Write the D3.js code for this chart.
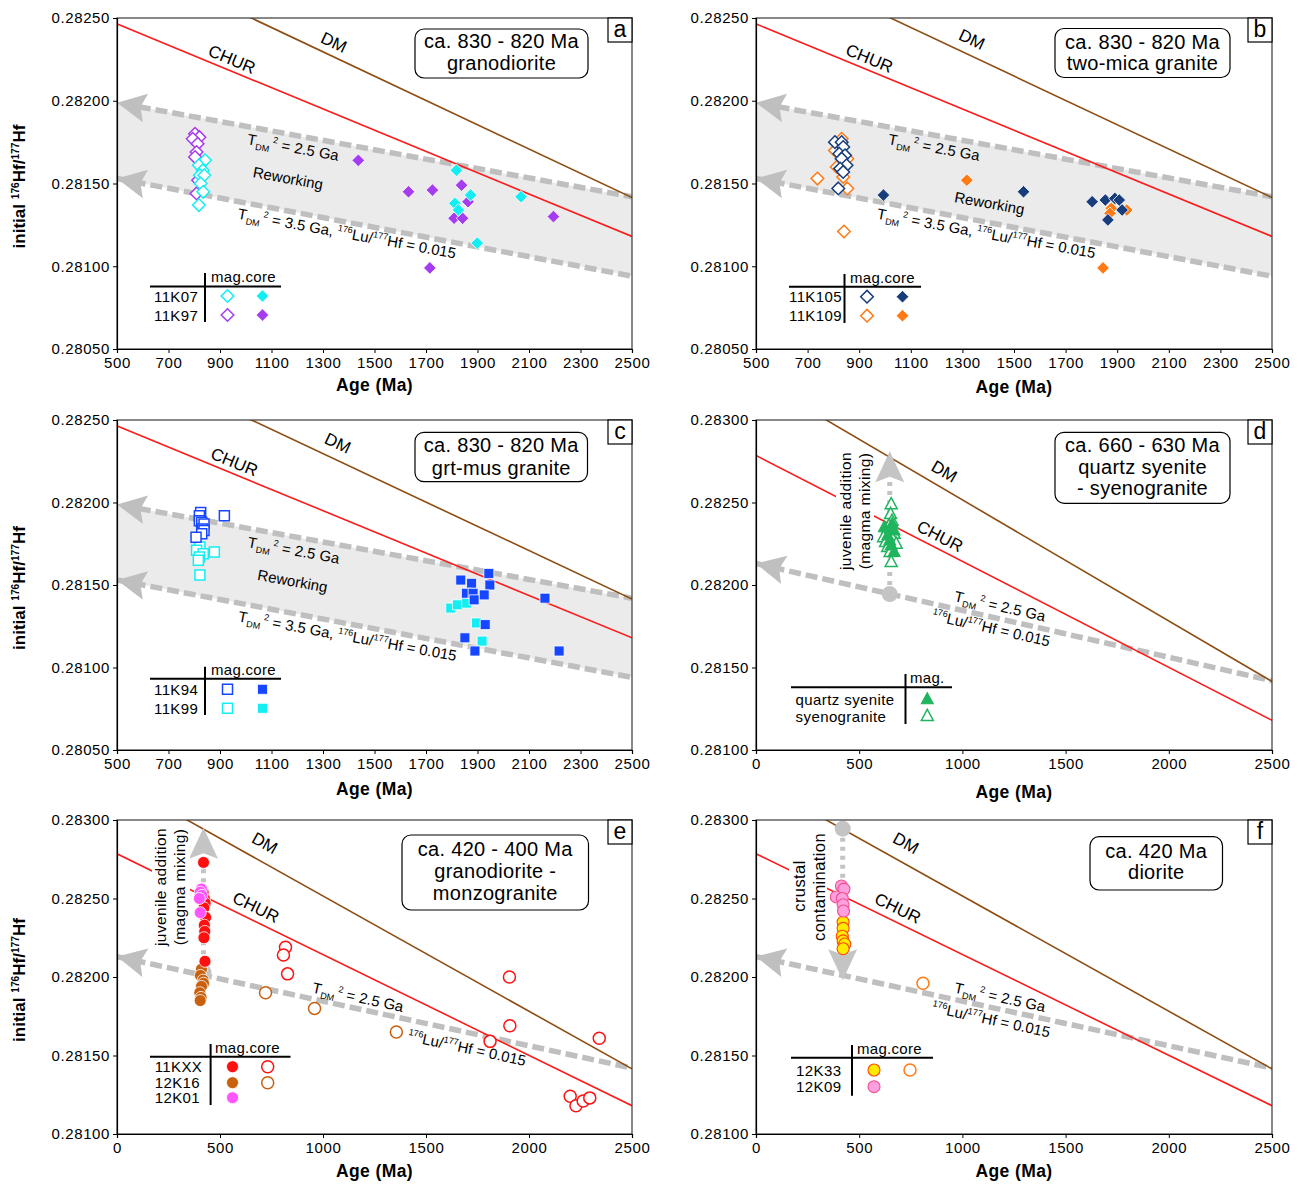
<!DOCTYPE html>
<html>
<head>
<meta charset="utf-8">
<script src="https://cdn.jsdelivr.net/npm/d3@7"></script>
<style>
  body { margin: 0; background: #fff; }
  svg text { font-family: "Liberation Sans", Arial, Helvetica, sans-serif; fill: #000; }
</style>
</head>
<body>
<svg id="fig" width="1299" height="1184"></svg>
<script>
// ---------- axis ticks ----------
const ageTicksOld   = [500, 700, 900, 1100, 1300, 1500, 1700, 1900, 2100, 2300, 2500];
const ageTicksYoung = [0, 500, 1000, 1500, 2000, 2500];
const hfTicksOld    = [0.2805, 0.2810, 0.2815, 0.2820, 0.2825];
const hfTicksYoung  = [0.2810, 0.2815, 0.2820, 0.2825, 0.2830];

// ---------- reference evolution lines [age (Ma), initial 176Hf/177Hf] ----------
const churLine  = [[0, 0.282785], [2500, 0.281180]];
const dmLine    = [[0, 0.283250], [2500, 0.281415]];
const tdm25Line = [[0, 0.282130], [2500, 0.281420]];
const tdm35Line = [[500, 0.281530], [2500, 0.280940]];

// ---------- (a) ca. 830-820 Ma granodiorite ----------
const k07Mag  = [[842,0.28164],[818,0.28161],[833,0.28158],[822,0.28155],[839,0.28155],[825,0.28150],[835,0.28145],[818,0.28137]];
const k07Core = [[1818,0.28158],[1873,0.28143],[1812,0.28138],[1826,0.28134],[2069,0.28142],[1899,0.28114]];
const k97Mag  = [[803,0.28180],[820,0.28178],[794,0.28177],[813,0.28174],[809,0.28169],[803,0.28166],[815,0.28152],[809,0.28144]];
const k97Core = [[1437,0.28164],[1632,0.28145],[1725,0.28146],[1838,0.28149],[1863,0.28139],[1809,0.28129],[1842,0.28129],[1715,0.28099],[2195,0.28130]];

// ---------- (b) ca. 830-820 Ma two-mica granite ----------
const k105Mag  = [[806,0.28175],[832,0.28175],[838,0.28172],[823,0.28168],[845,0.28167],[832,0.28165],[851,0.28161],[826,0.28159],[838,0.28157],[819,0.28147]];
const k105Core = [[994,0.28143],[1537,0.28145],[1803,0.28139],[1854,0.28140],[1891,0.28141],[1908,0.28140],[1919,0.28134],[1864,0.28128]];
const k109Mag  = [[832,0.28177],[806,0.28170],[854,0.28165],[813,0.28160],[838,0.28154],[738,0.28153],[854,0.28147],[841,0.28121]];
const k109Core = [[1317,0.28152],[1845,0.28099],[1877,0.28135],[1872,0.28132],[1937,0.28134]];

// ---------- (c) ca. 830-820 Ma grt-mus granite ----------
const k94Mag  = [[825,0.28194],[820,0.28192],[820,0.28189],[829,0.28188],[838,0.28187],[833,0.28184],[838,0.28183],[829,0.28181],[807,0.28179],[917,0.28192]];
const k94Core = [[1835,0.28153],[1877,0.28151],[1944,0.28157],[1948,0.28150],[1857,0.28145],[1883,0.28145],[1926,0.28144],[1887,0.28141],[1851,0.28118],[1930,0.28126],[1890,0.28110],[2217,0.28110],[2162,0.28142]];
const k99Mag  = [[822,0.28173],[809,0.28171],[835,0.28169],[878,0.28170],[820,0.28167],[816,0.28165],[822,0.28156]];
const k99Core = [[1796,0.28136],[1822,0.28138],[1858,0.28139],[1896,0.28127],[1918,0.28116]];

// ---------- (d) ca. 660-630 Ma quartz syenite - syenogranite ----------
const qzSyenite    = [[622,0.28235],[669,0.28233],[638,0.28230],[648,0.28227],[655,0.28224],[669,0.28220],[660,0.28237]];
const syenogranite = [[655,0.28249],[652,0.28243],[659,0.28239],[638,0.28234],[645,0.28236],[669,0.28231],[618,0.28229],[662,0.28228],[628,0.28226],[679,0.28225],[638,0.28223],[650,0.28220],[655,0.28214]];

// ---------- (e) ca. 420-400 Ma granodiorite - monzogranite ----------
const kxxMag  = [[420,0.28273],[418,0.28254],[424,0.28250],[428,0.28247],[422,0.28244],[430,0.28238],[424,0.28233],[426,0.28229],[422,0.28225],[427,0.28210]];
const kxxCore = [[818,0.28219],[808,0.28214],[828,0.28202],[1905,0.28200],[1907,0.28169],[1811,0.28159],[2341,0.28161],[2200,0.28124],[2228,0.28118],[2263,0.28121],[2295,0.28123]];
const k16Mag  = [[410,0.28205],[405,0.28201],[418,0.28198],[420,0.28196],[410,0.28194],[402,0.28190],[408,0.28187],[404,0.28185]];
const k16Core = [[721,0.28190],[959,0.28180],[1356,0.28165]];
const k01Mag  = [[410,0.28256],[404,0.28254],[412,0.28252],[400,0.28250],[404,0.28241]];

// ---------- (f) ca. 420 Ma diorite ----------
const k09Mag  = [[414,0.28258],[426,0.28256],[389,0.28251],[418,0.28250],[422,0.28246],[424,0.28242]];
const k33Mag  = [[422,0.28235],[422,0.28231],[418,0.28226],[422,0.28223],[430,0.28221],[422,0.28218]];
const k33Core = [[809,0.28196]];

// ---------- styling ----------
const C = {
  chur: "#ff1a1a", dm: "#8e4d12", band: "#ebebeb", dash: "#bfbfbf",
  cyan: "#14eef2", purple: "#a63cf0", navy: "#173d7c", orange: "#ff7a14",
  blue: "#1646ff", green: "#1fb45e", red: "#ff1010", brown: "#c8600f",
  magenta: "#ff55ff", pink: "#ff9fe0", pinkLine: "#f0508a", yellow: "#ffea00", yellowLine: "#ff4a00"
};
const openS   = (c, shape, r) => ({shape, r, fill: "#fff", stroke: c, sw: 1.5});
const filledS = (c, shape, r, st) => ({shape, r, fill: c, stroke: st || "#fff", sw: st ? 1.1 : 0.8});

const svg = d3.select("#fig");
const defs = svg.append("defs");

function markerPath(shape, r) {
  if (shape === "diamond") return `M0,${-r}L${r},0L0,${r}L${-r},0Z`;
  if (shape === "square") return `M${-r},${-r}H${r}V${r}H${-r}Z`;
  if (shape === "triangle") return `M0,${-r * 1.1}L${r},${r * 0.75}L${-r},${r * 0.75}Z`;
  return d3.symbol(d3.symbolCircle, Math.PI * r * r)();
}
function drawMark(g, px, py, st) {
  g.append("path").attr("d", markerPath(st.shape, st.r))
    .attr("transform", `translate(${px},${py})`)
    .attr("fill", st.fill).attr("stroke", st.stroke).attr("stroke-width", st.sw);
}

// rich text: parts with optional scale (s) and relative baseline shift (dy)
function rich(textSel, parts, size) {
  parts.forEach(p => {
    textSel.append("tspan")
      .attr("font-size", p.s ? size * p.s : size)
      .attr("dy", p.dy || 0)
      .text(p.t);
  });
}
const tdmParts = rest => [{t: "T"}, {t: "DM", s: 0.6, dy: 4}, {t: " 2", s: 0.6, dy: -10}, {t: " = " + rest, dy: 6}];
const luParts  = [{t: "176", s: 0.6, dy: -6}, {t: "Lu/", dy: 6}, {t: "177", s: 0.6, dy: -6}, {t: "Hf = 0.015", dy: 6}];

function arrowHead(g, tipX, tipY, angleDeg, len, wid, color) {
  const h = wid / 2;
  g.append("path")
    .attr("d", `M0,0L${len},${-h}L${len * 0.82},0L${len},${h}Z`)
    .attr("transform", `translate(${tipX},${tipY}) rotate(${angleDeg})`)
    .attr("fill", color);
}

function drawPanel(p) {
  const x = d3.scaleLinear().domain(p.xDomain).range([p.x0, p.x1]);
  const y = d3.scaleLinear().domain(p.yDomain).range([p.y1, p.y0]);
  const line = d3.line().x(d => x(d[0])).y(d => y(d[1]));
  const angleOf = l => Math.atan2(y(l[1][1]) - y(l[0][1]), x(l[1][0]) - x(l[0][0])) * 180 / Math.PI;
  const valueAt = (l, a) => d3.scaleLinear().domain([l[0][0], l[1][0]]).range([l[0][1], l[1][1]])(a);

  const clipId = "clip-" + p.id;
  defs.append("clipPath").attr("id", clipId).append("rect")
    .attr("x", p.x0).attr("y", p.y0).attr("width", p.x1 - p.x0).attr("height", p.y1 - p.y0);

  const g = svg.append("g");
  const plot = g.append("g").attr("clip-path", `url(#${clipId})`);
  const xmin = p.xDomain[0];

  // crustal reworking field
  if (p.band) {
    plot.append("path")
      .attr("d", line([tdm25Line[0], tdm25Line[1], tdm35Line[1], tdm35Line[0], [xmin, valueAt(tdm25Line, xmin)]]) + "Z")
      .attr("fill", C.band);
  }
  const dashLines = p.band ? [tdm25Line, tdm35Line] : [tdm25Line];
  dashLines.forEach(l => {
    plot.append("path").attr("d", line(l)).attr("fill", "none")
      .attr("stroke", C.dash).attr("stroke-width", 5.5).attr("stroke-dasharray", "12,5");
  });

  // evolution lines
  plot.append("path").attr("d", line(churLine)).attr("fill", "none").attr("stroke", C.chur).attr("stroke-width", 1.6);
  plot.append("path").attr("d", line(dmLine)).attr("fill", "none").attr("stroke", C.dm).attr("stroke-width", 1.6);

  dashLines.forEach(l => {
    const v = valueAt(l, xmin);
    arrowHead(g, x(xmin), y(v), angleOf(l), 29, 29, C.dash);
  });

  // vertical process arrow (juvenile addition / crustal contamination)
  if (p.process) {
    const pr = p.process;
    const cx = x(pr.dot[0]), cy = y(pr.dot[1]), ty = y(pr.tip[1]);
    const dir = ty < cy ? 1 : -1;
    g.append("line").attr("x1", cx).attr("x2", cx).attr("y1", cy).attr("y2", ty + dir * 28)
      .attr("stroke", "#c4c4c4").attr("stroke-width", 5).attr("stroke-dasharray", "4,5");
    g.append("circle").attr("cx", cx).attr("cy", cy).attr("r", 8).attr("fill", "#c4c4c4");
    arrowHead(g, cx, ty, dir > 0 ? 90 : -90, 31, 29, "#c4c4c4");
    // text block interrupts the reference lines beneath it
    g.append("rect").attr("x", pr.box[0]).attr("y", pr.box[1]).attr("width", pr.box[2]).attr("height", pr.box[3]).attr("fill", "#fff");
    pr.lines.forEach(l => {
      g.append("text").attr("transform", `translate(${l.x},${l.y}) rotate(-90)`)
        .attr("text-anchor", "middle").attr("font-size", l.size || 15.5).attr("letter-spacing", 0.4).text(l.t);
    });
  }

  // line labels
  p.labels.forEach(lb => {
    const size = lb.size || 15;
    const t = g.append("text")
      .attr("transform", `translate(${x(lb.at[0])},${y(lb.at[1])}) rotate(${angleOf(lb.along)})`)
      .attr("x", 0).attr("y", size * 0.36).attr("text-anchor", "middle").attr("font-size", size);
    if (typeof lb.parts === "string") t.text(lb.parts); else rich(t, lb.parts, size);
  });

  // data points, above the annotations
  const pts = g.append("g").attr("clip-path", `url(#${clipId})`);
  p.series.forEach(s => s.data.forEach(d => drawMark(pts, x(d[0]), y(d[1]), s.style)));

  // frame and axes
  g.append("rect").attr("x", p.x0).attr("y", p.y0).attr("width", p.x1 - p.x0).attr("height", p.y1 - p.y0)
    .attr("fill", "none").attr("stroke", "#3a3a3a").attr("stroke-width", 1.2);
  const ax = g.append("g").attr("transform", `translate(0,${p.y1})`)
    .call(d3.axisBottom(x).tickValues(p.xTicks).tickFormat(d3.format("d")).tickSize(4).tickPadding(4));
  const ay = g.append("g").attr("transform", `translate(${p.x0},0)`)
    .call(d3.axisLeft(y).tickValues(p.yTicks).tickFormat(d3.format(".5f")).tickSize(4).tickPadding(3));
  [ax, ay].forEach(a => {
    a.select(".domain").attr("stroke", "#000").attr("stroke-width", 1.2);
    a.selectAll("text").attr("font-size", 15).attr("letter-spacing", 0.6)
      .attr("font-family", '"Liberation Sans", Arial, sans-serif').attr("fill", "#000");
  });

  // axis titles
  g.append("text").attr("x", (p.x0 + p.x1) / 2).attr("y", p.xTitleY).attr("text-anchor", "middle")
    .attr("font-size", 17.5).attr("font-weight", "bold").attr("letter-spacing", 0.4).text("Age (Ma)");
  if (p.yTitle) {
    const t = g.append("text").attr("transform", `translate(25,${(p.y0 + p.y1) / 2 + 3}) rotate(-90)`)
      .attr("text-anchor", "middle").attr("font-size", 17).attr("font-weight", "bold");
    rich(t, [{t: "initial "}, {t: "176", s: 0.6, dy: -6}, {t: "Hf/", dy: 6}, {t: "177", s: 0.6, dy: -6}, {t: "Hf", dy: 6}], 17);
  }

  // age / lithology box
  const b = p.box;
  g.append("rect").attr("x", b.x).attr("y", b.y).attr("width", b.w).attr("height", b.h)
    .attr("rx", 9).attr("fill", "#fff").attr("stroke", "#000").attr("stroke-width", 1.2);
  b.lines.forEach((txt, i) => {
    g.append("text").attr("x", b.x + b.w / 2).attr("y", b.ly[i] + 7).attr("text-anchor", "middle")
      .attr("font-size", 20).attr("letter-spacing", 0.3).text(txt);
  });

  // panel letter
  g.append("rect").attr("x", p.x1 - 24).attr("y", p.y0).attr("width", 24).attr("height", 24)
    .attr("fill", "#fff").attr("stroke", "#000").attr("stroke-width", 1.2);
  g.append("text").attr("x", p.x1 - 12).attr("y", p.y0 + 19).attr("text-anchor", "middle")
    .attr("font-size", 23).text(p.id);

  // legend table
  const L = p.legend;
  g.append("line").attr("x1", L.h[0]).attr("x2", L.h[1]).attr("y1", L.h[2]).attr("y2", L.h[2]).attr("stroke", "#000").attr("stroke-width", 2);
  g.append("line").attr("x1", L.v[0]).attr("x2", L.v[0]).attr("y1", L.v[1]).attr("y2", L.v[2]).attr("stroke", "#000").attr("stroke-width", 2);
  g.append("text").attr("x", L.head[1]).attr("y", L.head[2] + 5).attr("font-size", 15).attr("letter-spacing", 0.3).text(L.head[0]);
  L.rows.forEach(r => {
    g.append("text").attr("x", L.labelX).attr("y", r.y + 5.5).attr("font-size", 15).attr("letter-spacing", 0.4).text(r.label);
    r.marks.forEach((st, i) => { if (st) drawMark(g, L.cols[i], r.y, st); });
  });
}

// ---------- panel layout ----------
const oldFrame = {xDomain: [500, 2500], yDomain: [0.2805, 0.2825], xTicks: ageTicksOld, yTicks: hfTicksOld, band: true};
const youngFrame = {xDomain: [0, 2500], yDomain: [0.2810, 0.2830], xTicks: ageTicksYoung, yTicks: hfTicksYoung, band: false};

const sCyanO = openS(C.cyan, "diamond", 6.3), sCyanF = filledS(C.cyan, "diamond", 6.3);
const sPurO = openS(C.purple, "diamond", 6.3), sPurF = filledS(C.purple, "diamond", 6.3);
const sNavyO = openS(C.navy, "diamond", 6.3), sNavyF = filledS(C.navy, "diamond", 6.3);
const sOrO = openS(C.orange, "diamond", 6.3), sOrF = filledS(C.orange, "diamond", 6.3);
const sBlueO = openS(C.blue, "square", 5), sBlueF = filledS(C.blue, "square", 5);
const sCySqO = openS(C.cyan, "square", 5), sCySqF = filledS(C.cyan, "square", 5);
const sGreenF = filledS(C.green, "triangle", 6, C.green), sGreenO = openS(C.green, "triangle", 6);
const sRedF = filledS(C.red, "circle", 6), sRedO = openS(C.red, "circle", 6);
const sBrF = filledS(C.brown, "circle", 6), sBrO = openS(C.brown, "circle", 6);
const sMagF = filledS(C.magenta, "circle", 6);
const sPinkF = filledS(C.pink, "circle", 6, C.pinkLine);
const sYelF = filledS(C.yellow, "circle", 6, C.yellowLine);
const sOrCO = openS(C.orange, "circle", 6);

drawPanel(Object.assign({}, oldFrame, {
  id: "a", x0: 117, x1: 632, y0: 18, y1: 349, xTitleY: 391, yTitle: true,
  series: [{data: k97Mag, style: sPurO}, {data: k07Mag, style: sCyanO}, {data: k97Core, style: sPurF}, {data: k07Core, style: sCyanF}],
  labels: [
    {parts: "CHUR", at: [947, 0.282252], along: churLine, size: 17},
    {parts: "DM", at: [1343, 0.282355], along: dmLine, size: 17},
    {parts: tdmParts("2.5 Ga"), at: [1184, 0.28172], along: tdm25Line},
    {parts: "Reworking", at: [1164, 0.281533], along: tdm25Line},
    {parts: tdmParts("3.5 Ga, ").concat(luParts), at: [1393, 0.28120], along: tdm25Line}
  ],
  box: {x: 415, y: 29, w: 173, h: 49, lines: ["ca. 830 - 820 Ma", "granodiorite"], ly: [41, 63]},
  legend: {h: [150, 281, 286.5], v: [205, 273, 322], head: ["mag.core", 211, 277], labelX: 154, cols: [227.5, 262.5],
    rows: [{label: "11K07", y: 296, marks: [sCyanO, sCyanF]}, {label: "11K97", y: 315, marks: [sPurO, sPurF]}]}
}));

drawPanel(Object.assign({}, oldFrame, {
  id: "b", x0: 756, x1: 1272, y0: 18, y1: 349, xTitleY: 393, yTitle: false,
  series: [{data: k109Mag, style: sOrO}, {data: k105Mag, style: sNavyO}, {data: k109Core, style: sOrF}, {data: k105Core, style: sNavyF}],
  labels: [
    {parts: "CHUR", at: [940, 0.282258], along: churLine, size: 17},
    {parts: "DM", at: [1337, 0.282373], along: dmLine, size: 17},
    {parts: tdmParts("2.5 Ga"), at: [1190, 0.28172], along: tdm25Line},
    {parts: "Reworking", at: [1405, 0.281382], along: tdm25Line},
    {parts: tdmParts("3.5 Ga, ").concat(luParts), at: [1393, 0.28120], along: tdm25Line}
  ],
  box: {x: 1055, y: 28.5, w: 175, h: 49, lines: ["ca. 830 - 820 Ma", "two-mica granite"], ly: [41.5, 63.3]},
  legend: {h: [789, 921, 286.7], v: [844.5, 274, 323], head: ["mag.core", 850, 278], labelX: 789, cols: [867, 902.5],
    rows: [{label: "11K105", y: 296.7, marks: [sNavyO, sNavyF]}, {label: "11K109", y: 315.7, marks: [sOrO, sOrF]}]}
}));

drawPanel(Object.assign({}, oldFrame, {
  id: "c", x0: 117, x1: 632, y0: 420, y1: 750, xTitleY: 795, yTitle: true,
  series: [{data: k99Mag, style: sCySqO}, {data: k94Mag, style: sBlueO}, {data: k99Core, style: sCySqF}, {data: k94Core, style: sBlueF}],
  labels: [
    {parts: "CHUR", at: [956, 0.282247], along: churLine, size: 17},
    {parts: "DM", at: [1358, 0.282361], along: dmLine, size: 17},
    {parts: tdmParts("2.5 Ga"), at: [1186, 0.281712], along: tdm25Line},
    {parts: "Reworking", at: [1182, 0.281525], along: tdm25Line},
    {parts: tdmParts("3.5 Ga, ").concat(luParts), at: [1395, 0.281192], along: tdm25Line}
  ],
  box: {x: 415, y: 432.3, w: 172.5, h: 49.4, lines: ["ca. 830 - 820 Ma", "grt-mus granite"], ly: [445, 467.7]},
  legend: {h: [150, 281, 678.7], v: [205, 666.7, 715], head: ["mag.core", 211, 670], labelX: 154, cols: [227.5, 262.5],
    rows: [{label: "11K94", y: 689.3, marks: [sBlueO, sBlueF]}, {label: "11K99", y: 708.3, marks: [sCySqO, sCySqF]}]}
}));

drawPanel(Object.assign({}, youngFrame, {
  id: "d", x0: 756, x1: 1272, y0: 420, y1: 750, xTitleY: 798, yTitle: false,
  series: [{data: syenogranite, style: sGreenO}, {data: qzSyenite, style: sGreenF}],
  process: {dot: [648, 0.281945], tip: [648, 0.28281], box: [836, 450, 38, 122],
    lines: [{t: "juvenile addition", x: 851, y: 511}, {t: "(magma mixing)", x: 870, y: 511}]},
  labels: [
    {parts: "DM", at: [913, 0.28269], along: dmLine, size: 17},
    {parts: "CHUR", at: [892, 0.282297], along: churLine, size: 17},
    {parts: tdmParts("2.5 Ga"), at: [1182, 0.281873], along: tdm25Line},
    {parts: luParts, at: [1139, 0.28174], along: tdm25Line}
  ],
  box: {x: 1055, y: 432.3, w: 175, h: 71, lines: ["ca. 660 - 630 Ma", "quartz syenite", "- syenogranite"], ly: [445, 466.7, 488.3]},
  legend: {h: [791, 952, 687.3], v: [905.5, 674, 724], head: ["mag.", 910, 678.3], labelX: 795.6, cols: [927.3],
    rows: [{label: "quartz syenite", y: 699.3, marks: [sGreenF]}, {label: "syenogranite", y: 716, marks: [sGreenO]}]}
}));

drawPanel(Object.assign({}, youngFrame, {
  id: "e", x0: 117, x1: 632, y0: 820, y1: 1134, xTitleY: 1177, yTitle: true,
  series: [{data: kxxCore, style: sRedO}, {data: k16Core, style: sBrO}, {data: k16Mag, style: sBrF}, {data: kxxMag, style: sRedF}, {data: k01Mag, style: sMagF}],
  process: {dot: [420, 0.28203], tip: [420, 0.28295], box: [152, 826, 38, 122],
    lines: [{t: "juvenile addition", x: 166, y: 887}, {t: "(magma mixing)", x: 185, y: 887}]},
  labels: [
    {parts: "DM", at: [718, 0.282854], along: dmLine, size: 17},
    {parts: "CHUR", at: [675, 0.282446], along: churLine, size: 17},
    {parts: tdmParts("2.5 Ga"), at: [1170, 0.281873], along: tdm25Line},
    {parts: luParts, at: [1699, 0.281548], along: tdm25Line}
  ],
  box: {x: 402, y: 835, w: 186.5, h: 75, lines: ["ca. 420 - 400 Ma", "granodiorite -", "monzogranite"], ly: [849.3, 871, 893.3]},
  legend: {h: [150, 290.5, 1056.7], v: [210.6, 1044, 1105], head: ["mag.core", 215, 1048.3], labelX: 154.7, cols: [232.5, 267.7],
    rows: [{label: "11KXX", y: 1066.7, marks: [sRedF, sRedO]}, {label: "12K16", y: 1082.7, marks: [sBrF, sBrO]}, {label: "12K01", y: 1097.7, marks: [sMagF, null]}]}
}));

drawPanel(Object.assign({}, youngFrame, {
  id: "f", x0: 756, x1: 1272, y0: 820, y1: 1134, xTitleY: 1177, yTitle: false,
  series: [{data: k33Core, style: sOrCO}, {data: k33Mag, style: sYelF}, {data: k09Mag, style: sPinkF}],
  process: {dot: [420, 0.282945], tip: [420, 0.28198], box: [789, 826, 38, 122],
    lines: [{t: "crustal", x: 805, y: 886, size: 16.5}, {t: "contamination", x: 825, y: 887, size: 16.5}]},
  labels: [
    {parts: "DM", at: [727, 0.282854], along: dmLine, size: 17},
    {parts: "CHUR", at: [688, 0.28244], along: churLine, size: 17},
    {parts: tdmParts("2.5 Ga"), at: [1182, 0.281873], along: tdm25Line},
    {parts: luParts, at: [1139, 0.28173], along: tdm25Line}
  ],
  box: {x: 1090, y: 836.7, w: 132.5, h: 53.3, lines: ["ca. 420 Ma", "diorite"], ly: [850.7, 872.3]},
  legend: {h: [791, 933, 1057.7], v: [852, 1045, 1095.7], head: ["mag.core", 857, 1049.3], labelX: 796, cols: [874, 910],
    rows: [{label: "12K33", y: 1070, marks: [sYelF, sOrCO]}, {label: "12K09", y: 1086.7, marks: [sPinkF, null]}]}
}));
</script>
</body>
</html>
